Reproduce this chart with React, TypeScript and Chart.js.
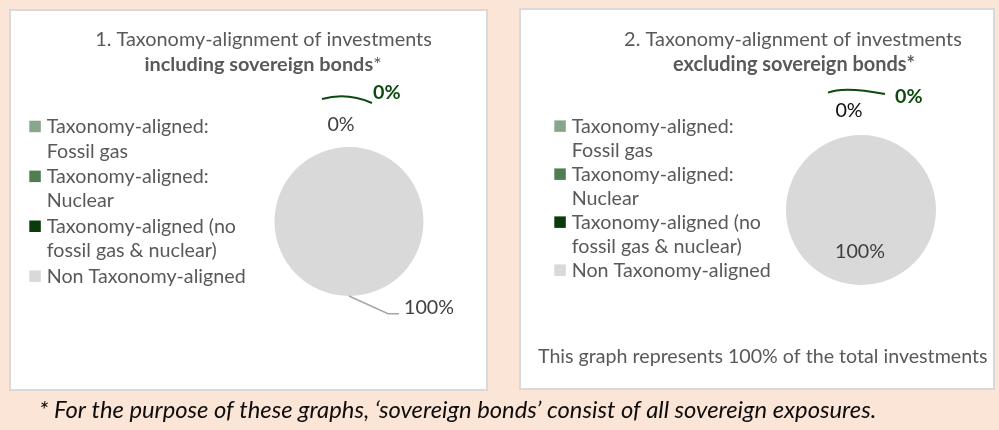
import React, { useEffect, useRef } from 'react';
import { Chart, registerables } from 'chart.js';

Chart.register(...registerables);

// ---------- data ----------
const categories: string[][] = [
  ['Taxonomy-aligned:', 'Fossil gas'],
  ['Taxonomy-aligned:', 'Nuclear'],
  ['Taxonomy-aligned (no', 'fossil gas & nuclear)'],
  ['Non Taxonomy-aligned'],
];
const includingSovereign = [0, 0, 0, 100];
const excludingSovereign = [0, 0, 0, 100];
const sliceColors = ['#8AA68A', '#517D53', '#0B3A0B', '#D9D9D9'];

const title1Line1 = '1. Taxonomy-alignment of investments';
const title1Line2Bold = 'including sovereign bonds';
const title1Line2Tail = '*';
const title2Line1 = '2. Taxonomy-alignment of investments';
const title2Line2Bold = 'excluding sovereign bonds*';
const coverageNote = 'This graph represents 100% of the total investments';
const footnote =
  '* For the purpose of these graphs, \u2018sovereign bonds\u2019 consist of all sovereign exposures.';

// ---------- styling ----------
const FONT = 'Lato';
const GREEN_LABEL = '#0E4A10';
const TEXT_GRAY = '#595959';
const LABEL_GRAY = '#404040';

type Seg = { text: string; weight: string };

function segWidth(ctx: CanvasRenderingContext2D, segs: Seg[], style: string, size: number) {
  let w = 0;
  for (const s of segs) {
    ctx.font = `${style} ${s.weight} ${size}px ${FONT}`;
    w += ctx.measureText(s.text).width;
  }
  return w;
}

function fitSize(ctx: CanvasRenderingContext2D, segs: Seg[], style: string, target: number) {
  return (100 * target) / segWidth(ctx, segs, style, 100);
}

function drawSegs(
  ctx: CanvasRenderingContext2D,
  segs: Seg[],
  style: string,
  size: number,
  x: number,
  y: number,
  align: 'left' | 'center' | 'right',
  color: string
) {
  const total = segWidth(ctx, segs, style, size);
  let cx = align === 'center' ? x - total / 2 : align === 'right' ? x - total : x;
  ctx.fillStyle = color;
  ctx.textAlign = 'left';
  ctx.textBaseline = 'alphabetic';
  for (const s of segs) {
    ctx.font = `${style} ${s.weight} ${size}px ${FONT}`;
    ctx.fillText(s.text, cx, y);
    cx += ctx.measureText(s.text).width;
  }
}

type Leader = { pts: number[][]; curve: boolean; color: string; width: number };
type LabelSpec = {
  show: boolean;
  dx: number;
  dy: number;
  align: 'left' | 'center' | 'right';
  color: string;
  bold: boolean;
  leader?: Leader;
};

type TextLine = { segs: Seg[]; x: number; y: number; align: 'left' | 'center' | 'right'; style: string; color: string; fit: number };

type PanelCfg = {
  titleLines: TextLine[];
  titleFit: { segs: Seg[]; width: number };
  legend: { boxX: number; textX: number; firstBaseline: number; lineH: number; itemGap: number };
  labels: LabelSpec[];
  extra: TextLine[];
};

const panel1: PanelCfg = {
  titleLines: [
    { segs: [{ text: title1Line1, weight: '400' }], x: 263.5, y: 46, align: 'center', style: 'normal', color: TEXT_GRAY, fit: 0 },
    {
      segs: [
        { text: title1Line2Bold, weight: '700' },
        { text: title1Line2Tail, weight: '400' },
      ],
      x: 263,
      y: 71,
      align: 'center',
      style: 'normal',
      color: TEXT_GRAY,
      fit: 0,
    },
  ],
  titleFit: { segs: [{ text: title1Line1, weight: '400' }], width: 337 },
  legend: { boxX: 29.3, textX: 46.7, firstBaseline: 133, lineH: 24.5, itemGap: 0.9 },
  labels: [
    { show: false, dx: 0, dy: 0, align: 'center', color: LABEL_GRAY, bold: false },
    { show: true, dx: -8, dy: -16, align: 'center', color: LABEL_GRAY, bold: false },
    {
      show: true,
      dx: 24,
      dy: -48,
      align: 'left',
      color: GREEN_LABEL,
      bold: true,
      leader: { pts: [[-27, -48], [-2, -55], [23, -44]], curve: true, color: GREEN_LABEL, width: 2 },
    },
    {
      show: true,
      dx: 55,
      dy: 18,
      align: 'left',
      color: LABEL_GRAY,
      bold: false,
      leader: { pts: [[0, 0], [39, 17.7], [50, 17.7]], curve: false, color: '#A6A6A6', width: 1.5 },
    },
  ],
  extra: [
    { segs: [{ text: footnote, weight: '400' }], x: 39, y: 418, align: 'left', style: 'italic', color: '#0D0D0D', fit: 838 },
  ],
};

const panel2: PanelCfg = {
  titleLines: [
    { segs: [{ text: title2Line1, weight: '400' }], x: 793, y: 46, align: 'center', style: 'normal', color: TEXT_GRAY, fit: 0 },
    { segs: [{ text: title2Line2Bold, weight: '700' }], x: 794, y: 71, align: 'center', style: 'normal', color: TEXT_GRAY, fit: 0 },
  ],
  titleFit: { segs: [{ text: title2Line1, weight: '400' }], width: 338 },
  legend: { boxX: 554.3, textX: 571.7, firstBaseline: 132.7, lineH: 24, itemGap: 0 },
  labels: [
    { show: false, dx: 0, dy: 0, align: 'center', color: LABEL_GRAY, bold: false },
    { show: true, dx: -12, dy: -18, align: 'center', color: '#0D0D0D', bold: false },
    {
      show: true,
      dx: 34,
      dy: -32,
      align: 'left',
      color: GREEN_LABEL,
      bold: true,
      leader: { pts: [[-33, -42.3], [-17.5, -49], [24, -41]], curve: true, color: GREEN_LABEL, width: 2 },
    },
    { show: true, dx: -1, dy: -27.3, align: 'center', color: LABEL_GRAY, bold: false },
  ],
  extra: [
    { segs: [{ text: coverageNote, weight: '400' }], x: 538, y: 363, align: 'left', style: 'normal', color: TEXT_GRAY, fit: 450 },
  ],
};

function makePlugin(cfg: PanelCfg) {
  return {
    id: 'panelDecor',
    afterDraw(chart: any) {
      const ctx: CanvasRenderingContext2D = chart.ctx;
      ctx.save();

      // titles
      const titleSize = fitSize(ctx, cfg.titleFit.segs, 'normal', cfg.titleFit.width);
      for (const t of cfg.titleLines) {
        drawSegs(ctx, t.segs, t.style, titleSize, t.x, t.y, t.align, t.color);
      }

      // legend
      const legendSize = fitSize(ctx, [{ text: 'Non Taxonomy-aligned', weight: '400' }], 'normal', 199);
      const ds = chart.data.datasets[0];
      const L = cfg.legend;
      let y = L.firstBaseline;
      (chart.data.labels as string[][]).forEach((lines, i) => {
        ctx.fillStyle = ds.backgroundColor[i];
        ctx.fillRect(L.boxX, y - 12.3, 11.5, 11.5);
        lines.forEach((ln, j) => {
          drawSegs(ctx, [{ text: ln, weight: '400' }], 'normal', legendSize, L.textX, y + j * L.lineH, 'left', TEXT_GRAY);
        });
        y += lines.length * L.lineH + L.itemGap;
      });

      // data labels
      const meta = chart.getDatasetMeta(0);
      meta.data.forEach((arc: any, i: number) => {
        const spec = cfg.labels[i];
        if (!spec || !spec.show) return;
        const p = arc.getProps(['x', 'y', 'startAngle', 'endAngle', 'outerRadius'], true);
        const mid = (p.startAngle + p.endAngle) / 2;
        const ax = p.x + Math.cos(mid) * p.outerRadius;
        const ay = p.y + Math.sin(mid) * p.outerRadius;
        if (spec.leader) {
          const ld = spec.leader;
          ctx.strokeStyle = ld.color;
          ctx.lineWidth = ld.width;
          ctx.lineCap = 'butt';
          ctx.beginPath();
          ctx.moveTo(ax + ld.pts[0][0], ay + ld.pts[0][1]);
          if (ld.curve) {
            ctx.quadraticCurveTo(ax + ld.pts[1][0], ay + ld.pts[1][1], ax + ld.pts[2][0], ay + ld.pts[2][1]);
          } else {
            for (let k = 1; k < ld.pts.length; k++) ctx.lineTo(ax + ld.pts[k][0], ay + ld.pts[k][1]);
          }
          ctx.stroke();
        }
        const text = `${Math.round(ds.data[i])}%`;
        drawSegs(
          ctx,
          [{ text, weight: spec.bold ? '700' : '400' }],
          'normal',
          legendSize,
          ax + spec.dx,
          ay + spec.dy,
          spec.align,
          spec.color
        );
      });

      // extra texts
      for (const t of cfg.extra) {
        const size = fitSize(ctx, t.segs, t.style, t.fit);
        drawSegs(ctx, t.segs, t.style, size, t.x, t.y, t.align, t.color);
      }

      ctx.restore();
    },
  };
}

function pieConfig(values: number[], padding: any, cfg: PanelCfg): any {
  return {
    type: 'pie',
    data: {
      labels: categories,
      datasets: [{ data: values, backgroundColor: sliceColors, borderWidth: 0, hoverOffset: 0 }],
    },
    options: {
      responsive: false,
      maintainAspectRatio: false,
      animation: false,
      devicePixelRatio: 1,
      events: [],
      layout: { padding },
      plugins: {
        legend: { display: false },
        tooltip: { enabled: false },
        title: { display: false },
      },
    },
    plugins: [makePlugin(cfg)],
  };
}

export default function App() {
  const c1 = useRef<HTMLCanvasElement>(null);
  const c2 = useRef<HTMLCanvasElement>(null);

  useEffect(() => {
    const ch1 = new Chart(
      c1.current as HTMLCanvasElement,
      pieConfig(includingSovereign, { left: 274.5, right: 575.5, top: 147, bottom: 134 }, panel1)
    );
    const ch2 = new Chart(
      c2.current as HTMLCanvasElement,
      pieConfig(excludingSovereign, { left: 786, right: 63, top: 135, bottom: 145 }, panel2)
    );
    return () => {
      ch1.destroy();
      ch2.destroy();
    };
  }, []);

  const canvasStyle: React.CSSProperties = { position: 'absolute', left: 0, top: 0, width: 999, height: 430 };
  const panelStyle: React.CSSProperties = {
    position: 'absolute',
    background: '#FFFFFF',
    border: '2px solid #D9D9D9',
    boxSizing: 'border-box',
  };

  return (
    <div style={{ position: 'fixed', left: 0, top: 0, width: 999, height: 430, background: '#FBE5D6', overflow: 'hidden' }}>
      <div style={{ ...panelStyle, left: 9, top: 9, width: 479, height: 382 }} />
      <div style={{ ...panelStyle, left: 519, top: 8, width: 476, height: 382 }} />
      <canvas ref={c1} width={999} height={430} style={canvasStyle} />
      <canvas ref={c2} width={999} height={430} style={canvasStyle} />
    </div>
  );
}
